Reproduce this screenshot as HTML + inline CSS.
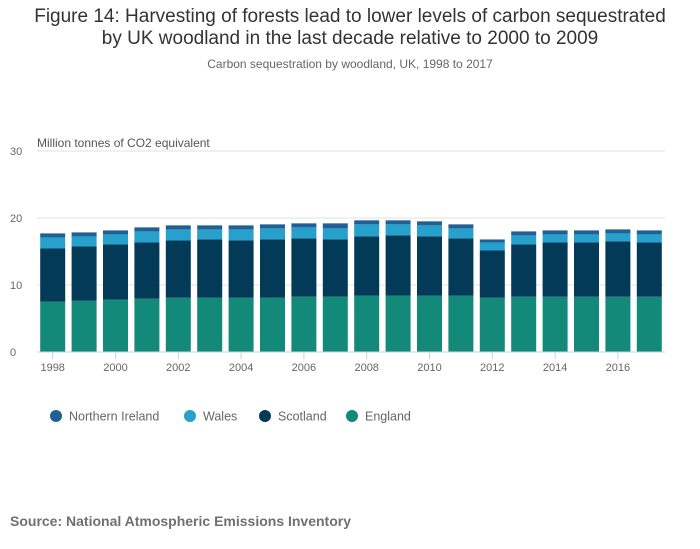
<!DOCTYPE html>
<html><head><meta charset="utf-8"><style>
body{margin:0;background:#fff;font-family:"Liberation Sans",sans-serif;}
#wrap{position:relative;width:700px;height:549px;overflow:hidden}
.t{position:absolute;left:0;width:700px;text-align:center;color:#333}
</style></head><body>
<div id="wrap">
<div class="t" style="top:6px;font-size:19px;line-height:22px">Figure 14: Harvesting of forests lead to lower levels of carbon sequestrated<br>by UK woodland in the last decade relative to 2000 to 2009</div>
<div class="t" style="top:57px;font-size:12px;color:#666">Carbon sequestration by woodland, UK, 1998 to 2017</div>
<svg id="svg" width="700" height="549" style="position:absolute;left:0;top:0"></svg>
<div style="position:absolute;left:10px;top:513px;font-size:14px;font-weight:bold;color:#707070">Source: National Atmospheric Emissions Inventory</div>
</div>
<script>
const years=[1998,1999,2000,2001,2002,2003,2004,2005,2006,2007,2008,2009,2010,2011,2012,2013,2014,2015,2016,2017];
const england=[7.5,7.65,7.8,7.95,8.1,8.1,8.1,8.1,8.25,8.25,8.4,8.4,8.4,8.4,8.1,8.25,8.25,8.25,8.25,8.25];
const scotland=[7.95,8.1,8.25,8.4,8.55,8.7,8.55,8.7,8.7,8.55,8.85,9.0,8.85,8.55,7.05,7.8,8.1,8.1,8.25,8.1];
const wales=[1.65,1.5,1.5,1.65,1.65,1.5,1.65,1.65,1.65,1.65,1.8,1.65,1.65,1.5,1.2,1.35,1.2,1.2,1.2,1.2];
const nireland=[0.6,0.6,0.6,0.6,0.6,0.6,0.6,0.6,0.6,0.75,0.6,0.6,0.6,0.6,0.45,0.6,0.6,0.6,0.6,0.6];
const yTicks=[0,10,20,30];
const xTickLabels=["1998","2000","2002","2004","2006","2008","2010","2012","2014","2016"];
const names=["England","Scotland","Wales","Northern Ireland"];
const colors=["#13897a","#023a58","#27a0cc","#206095"];
const series=[england,scotland,wales,nireland];
const NS="http://www.w3.org/2000/svg";
const svg=document.getElementById('svg');
const X0=37,X1=665,Y0=352,pxPer=6.7;
const step=(X1-X0)/years.length, bw=25;
const y=v=>Y0-v*pxPer;
const xc=i=>X0+step*(i+0.5);
function mk(t,a){const e=document.createElementNS(NS,t);for(const k in a)e.setAttribute(k,a[k]);svg.appendChild(e);return e;}
yTicks.forEach(v=>{
 if(v>0){const g=mk('line',{x1:X0,x2:X1,y1:y(v),y2:y(v),stroke:'#e0e0e0'});
 
 }
 const t=mk('text',{x:10,y:y(v)+4,'font-size':11,fill:'#666','font-family':'Liberation Sans'});t.textContent=v;
 
 
});
const yt=mk('text',{x:37,y:147,'font-size':12,fill:'#555','font-family':'Liberation Sans'});yt.textContent='Million tonnes of CO2 equivalent';


years.forEach((yr,i)=>{
 let base=0;
 series.forEach((s,k)=>{
  const r=mk('rect',{x:xc(i)-bw/2,y:y(base+s[i]),width:bw,height:s[i]*pxPer,fill:colors[k]});
  
  
  base+=s[i];
 });
});
const ax=mk('line',{x1:X0,x2:X1,y1:Y0,y2:Y0,stroke:'#c8d0e0'});


xTickLabels.forEach(l=>{
 const i=years.indexOf(+l);
 const tk=mk('line',{x1:xc(i),x2:xc(i),y1:Y0,y2:Y0+7,stroke:'#c8d0e0'});
 
 
 const t=mk('text',{x:xc(i),y:Y0+19,'font-size':11,fill:'#666','text-anchor':'middle','font-family':'Liberation Sans'});t.textContent=l;
 
 
});
const legX=[56,190,265,352];
[3,2,1,0].forEach((k,j)=>{
 const c=mk('circle',{cx:legX[j],cy:416,r:6,fill:colors[k]});
 
 
 const t=mk('text',{x:legX[j]+13,y:420.5,'font-size':12.5,fill:'#666','font-family':'Liberation Sans'});t.textContent=names[k];
 
 
});
</script>
</body></html>
